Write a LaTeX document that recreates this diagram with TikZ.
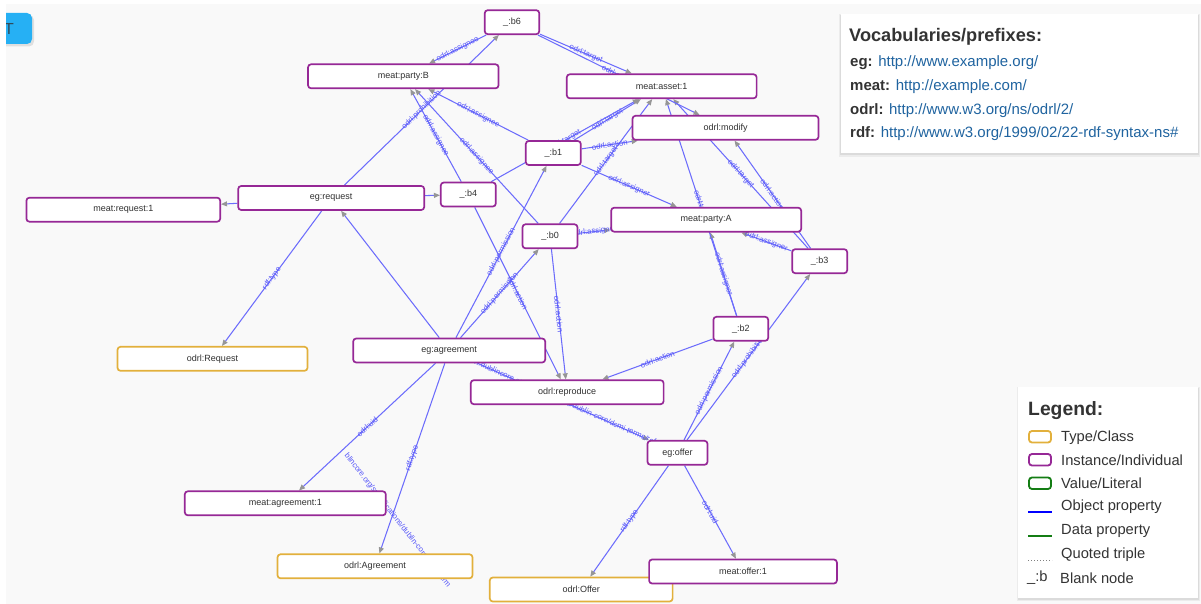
\documentclass[tikz,border=0pt]{standalone}
\usepackage{fontspec}
\setmainfont{Liberation Sans}
\usetikzlibrary{arrows.meta}
\definecolor{canvas}{RGB}{249,249,249}
\definecolor{inst}{RGB}{150,40,150}
\definecolor{cls}{RGB}{226,176,60}
\definecolor{lit}{RGB}{20,125,20}
\definecolor{edgeblue}{RGB}{108,108,252}
\definecolor{labelblue}{RGB}{84,84,250}
\definecolor{tipgray}{RGB}{150,150,150}
\definecolor{nodetext}{RGB}{48,48,48}
\definecolor{urlblue}{RGB}{32,100,160}
\definecolor{headtext}{RGB}{51,51,51}
\definecolor{btnblue}{RGB}{38,176,244}
\pgfdeclarelayer{canvaslayer}
\pgfdeclarelayer{edges}
\pgfsetlayers{canvaslayer,edges,main}

\begin{document}
\begin{tikzpicture}[x=1pt,y=-1pt,
  box/.style={draw, line width=1.7pt, rounded corners=3pt, fill=white,
    minimum height=24pt, inner sep=0pt,
    font=\fontsize{9}{10}\selectfont, text=nodetext},
  instance/.style={box, draw=inst},
  klass/.style={box, draw=cls},
  rel/.style={draw=edgeblue, line width=1.05pt,
    -{Triangle[length=6pt,width=5pt,color=tipgray]}},
  lbl/.style={sloped, midway, font=\fontsize{7.8}{9}\selectfont,
    text=labelblue, inner sep=0pt},
  panel/.style={fill=white, draw=none},
  legtext/.style={anchor=west, inner sep=0pt, text=headtext,
    font=\fontsize{14.7}{16}\selectfont},
  swatch/.style={line width=1.8pt, rounded corners=3pt, fill=white},
]
\useasboundingbox (0,0) rectangle (1201,604);
\begin{pgfonlayer}{canvaslayer}
  \fill[white] (0,0) rectangle (1201,604);
  \fill[canvas] (6,4) rectangle (1201,604);
\end{pgfonlayer}

% toolbar button in the corner
\begin{scope}
  \clip (6,4) rectangle (60,60);
  \fill[black, opacity=0.10, rounded corners=5pt] (-10,15) rectangle (34,46.5);
  \fill[btnblue, rounded corners=5pt] (-10,13) rectangle (32,44);
  \node[font=\fontsize{16}{18}\selectfont, text=headtext!80!btnblue, inner sep=0pt] (btn) at (9,28.5) {T};
\end{scope}

% graph nodes
\node[instance, minimum width=54.5pt]  (b6)        at (512,22.2)   {\_:b6};
\node[instance, minimum width=190.5pt] (partyB)    at (403.3,76.3) {meat:party:B};
\node[instance, minimum width=189.8pt] (asset)     at (661.7,86.3) {meat:asset:1};
\node[instance, minimum width=186pt]   (modify)    at (725.5,127.8){odrl:modify};
\node[instance, minimum width=55pt]    (b1)        at (553.3,153)  {\_:b1};
\node[instance, minimum width=186pt]   (req)       at (331.2,198)  {eg:request};
\node[instance, minimum width=55pt]    (b4)        at (468.3,194.5){\_:b4};
\node[instance, minimum width=193.8pt] (req1)      at (123.3,209.7){meat:request:1};
\node[instance, minimum width=55pt]    (b0)        at (550,236.3)  {\_:b0};
\node[instance, minimum width=190pt]   (partyA)    at (706.2,219.7){meat:party:A};
\node[instance, minimum width=55pt]    (b3)        at (819.7,261.2){\_:b3};
\node[instance, minimum width=54.8pt]  (b2)        at (740.8,328.8){\_:b2};
\node[klass,    minimum width=190pt]   (Request)   at (212.5,358.8){odrl:Request};
\node[instance, minimum width=192pt]   (agr)       at (449.2,350.5){eg:agreement};
\node[instance, minimum width=192.8pt] (reproduce) at (567.2,392.2){odrl:reproduce};
\node[instance, minimum width=60pt]    (offer)     at (677.5,452.8){eg:offer};
\node[instance, minimum width=201pt]   (agr1)      at (285.3,503.3){meat:agreement:1};
\node[klass,    minimum width=195pt]   (Agreement) at (375,566.3)  {odrl:Agreement};
\node[klass,    minimum width=182.8pt] (Offer)     at (581.2,589.5){odrl:Offer};
\node[instance, minimum width=187.8pt] (offer1)    at (743,571.5)  {meat:offer:1};

% properties, drawn beneath the nodes
\begin{pgfonlayer}{edges}
  \draw[rel] (req) -- (req1);
  \draw[rel] (req) -- (Request) node[lbl] {rdf:type};
  \draw[rel] (req) -- (b4);
  \draw[rel] (req) -- (b6) node[lbl] {odrl:prohibition};
  \draw[rel] (agr) -- (req);
  \draw[rel] (agr) -- (b1) node[lbl] {odrl:permission};
  \draw[rel] (agr) -- (b0) node[lbl] {odrl:permission};
  \draw[rel] (agr) -- (agr1) node[lbl] {odrl:uid};
  \draw[rel] (agr) -- (Agreement) node[lbl] {rdf:type};
  \draw[rel] (agr) -- (offer) node[lbl] {http://www.dublincore.org/specifications/dublin-core/dcmi-terms/references};
  \draw[rel] (offer) -- (Offer) node[lbl] {rdf:type};
  \draw[rel] (offer) -- (offer1) node[lbl] {odrl:uid};
  \draw[rel] (offer) -- (b2) node[lbl] {odrl:permission};
  \draw[rel] (offer) -- (b3) node[lbl] {odrl:prohibition};
  \draw[rel] (b0) -- (partyA) node[lbl] {odrl:assigner};
  \draw[rel] (b0) -- (partyB) node[lbl] {odrl:assignee};
  \draw[rel] (b0) -- (reproduce) node[lbl] {odrl:action};
  \draw[rel] (b0) -- (asset) node[lbl] {odrl:target};
  \draw[rel] (b1) -- (partyA) node[lbl] {odrl:assigner};
  \draw[rel] (b1) -- (partyB) node[lbl] {odrl:assignee};
  \draw[rel] (b1) -- (modify) node[lbl] {odrl:action};
  \draw[rel] (b1) -- (asset) node[lbl] {odrl:target};
  \draw[rel] (b2) -- (partyA) node[lbl] {odrl:assigner};
  \draw[rel] (b2) -- (reproduce) node[lbl] {odrl:action};
  \draw[rel] (b2) -- (asset) node[lbl] {odrl:target};
  \draw[rel] (b3) -- (partyA) node[lbl] {odrl:assigner};
  \draw[rel] (b3) -- (modify) node[lbl] {odrl:action};
  \draw[rel] (b3) -- (asset) node[lbl] {odrl:target};
  \draw[rel] (b4) -- (partyB) node[lbl] {odrl:assignee};
  \draw[rel] (b4) -- (reproduce) node[lbl] {odrl:action};
  \draw[rel] (b4) -- (asset) node[lbl] {odrl:target};
  \draw[rel] (b6) -- (partyB) node[lbl] {odrl:assignee};
  \draw[rel] (b6) -- (asset) node[lbl] {odrl:target};
  \draw[rel] (b6) -- (modify) node[lbl] {odrl:action};
  \node[font=\fontsize{7.8}{9}\selectfont, text=labelblue, inner sep=0pt, rotate=-52]
    (refs) at (397.5,520.5) {blincore.org/specifications/dublin-core/dcmi-term};
\end{pgfonlayer}

% prefix panel
\fill[black,opacity=0.05] (839,14) rectangle (1200,157);
\fill[black,opacity=0.07] (840,15) rectangle (1199,155.5);
\node[panel, minimum width=357pt, minimum height=139pt, inner sep=0pt] (vocab) at (1019,84) {};
\node[anchor=west, inner sep=0pt, text=headtext, font=\fontsize{18.2}{20}\selectfont\bfseries] (vtitle) at (849,37) {Vocabularies/prefixes:};
\node[anchor=west, inner sep=0pt, font=\fontsize{15}{17}\selectfont] (veg) at (850,63) {\textcolor{headtext}{\textbf{eg:}} \textcolor{urlblue}{http://www.example.org/}};
\node[anchor=west, inner sep=0pt, font=\fontsize{15}{17}\selectfont] (vmeat) at (850,87) {\textcolor{headtext}{\textbf{meat:}} \textcolor{urlblue}{http://example.com/}};
\node[anchor=west, inner sep=0pt, font=\fontsize{15}{17}\selectfont] (vodrl) at (850,111) {\textcolor{headtext}{\textbf{odrl:}} \textcolor{urlblue}{http://www.w3.org/ns/odrl/2/}};
\node[anchor=west, inner sep=0pt, font=\fontsize{15}{17}\selectfont] (vrdf) at (850,134) {\textcolor{headtext}{\textbf{rdf:}} \textcolor{urlblue}{http://www.w3.org/1999/02/22-rdf-syntax-ns\#}};

% legend panel
\fill[black,opacity=0.05] (1017,387) rectangle (1200,601);
\fill[black,opacity=0.07] (1018,388) rectangle (1199,599.5);
\node[panel, minimum width=180pt, minimum height=211pt, inner sep=0pt] (legend) at (1108,492.5) {};
\node[anchor=west, inner sep=0pt, text=headtext, font=\fontsize{19.3}{21}\selectfont\bfseries] (ltitle) at (1028,410.5) {Legend:};
\draw[swatch, draw=cls]  (1029,431) rectangle (1051,442.5);
\draw[swatch, draw=inst] (1029,454) rectangle (1051,465.5);
\draw[swatch, draw=lit]  (1029,477.5) rectangle (1051,489);
\draw[draw=blue, line width=2pt] (1028,512) -- (1052,512);
\draw[draw=lit, line width=2pt] (1028,535.5) -- (1052,535.5);
\draw[draw=gray, line width=1pt, dotted] (1028,560) -- (1052,560);
\node[legtext] (lt1) at (1061,438) {Type/Class};
\node[legtext] (lt2) at (1061,460.5) {Instance/Individual};
\node[legtext] (lt3) at (1061,483.5) {Value/Literal};
\node[legtext] (lt4) at (1061,507) {Object property};
\node[legtext] (lt5) at (1061,531) {Data property};
\node[legtext] (lt6) at (1061,554.5) {Quoted triple};
\node[legtext] (lt7a) at (1027,578) {\_:b};
\node[legtext] (lt7) at (1060,578) {Blank node};
\end{tikzpicture}
\end{document}
